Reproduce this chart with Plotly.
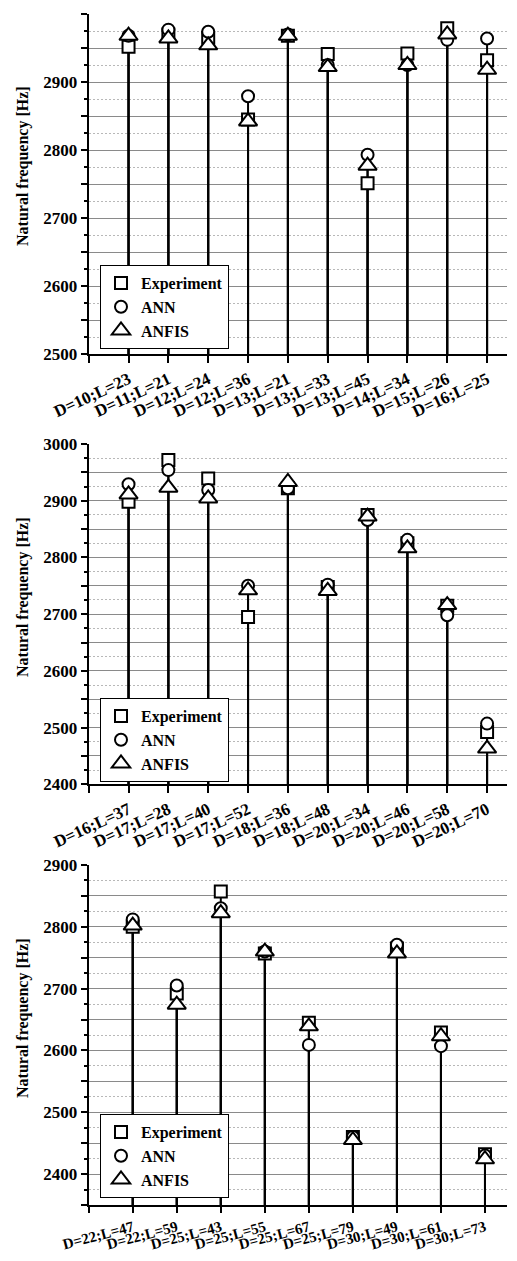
import plotly.graph_objects as go

# ---------------- data ----------------
labels1 = ["D=10;L=23", "D=11;L=21", "D=12;L=24", "D=12;L=36", "D=13;L=21",
           "D=13;L=33", "D=13;L=45", "D=14;L=34", "D=15;L=26", "D=16;L=25"]
exp1 = [2952, 2970, 2965, 2845, 2968, 2941, 2751, 2942, 2979, 2932]
ann1 = [2968, 2977, 2974, 2879, 2970, 2925, 2793, 2925, 2962, 2964]
anfis1 = [2968, 2964, 2954, 2842, 2968, 2922, 2777, 2925, 2970, 2918]

labels2 = ["D=16;L=37", "D=17;L=28", "D=17;L=40", "D=17;L=52", "D=18;L=36",
           "D=18;L=48", "D=20;L=34", "D=20;L=46", "D=20;L=58", "D=20;L=70"]
exp2 = [2898, 2972, 2939, 2695, 2922, 2748, 2875, 2825, 2715, 2492]
ann2 = [2929, 2954, 2919, 2750, 2922, 2752, 2866, 2831, 2698, 2507]
anfis2 = [2911, 2923, 2904, 2742, 2933, 2741, 2872, 2816, 2716, 2463]

labels3 = ["D=22;L=47", "D=22;L=59", "D=25;L=43", "D=25;L=55", "D=25;L=67",
           "D=25;L=79", "D=30;L=49", "D=30;L=61", "D=30;L=73"]
exp3 = [2800, 2692, 2857, 2757, 2645, 2460, 2765, 2629, 2432]
ann3 = [2812, 2705, 2830, 2760, 2609, 2460, 2771, 2607, 2430]
anfis3 = [2802, 2674, 2822, 2760, 2639, 2455, 2757, 2623, 2424]

yranges = [(2500, 3000), (2400, 3000), (2350, 2900)]
series_names = ["Experiment", "ANN", "ANFIS"]
y_title = "Natural frequency [Hz]"

# ---------------- geometry (page px, body margin 8) ----------------
W, H = 501, 1245
OFF = 8
px_left, px_right = 88.7 - OFF, 507 - OFF
panels_px = [(14 - OFF, 354 - OFF), (444 - OFF, 784.3 - OFF), (865 - OFF, 1205 - OFF)]
legend_px = [(100 - OFF, 265 - OFF), (100 - OFF, 698 - OFF), (100 - OFF, 1114 - OFF)]
title_center_px = [166 - OFF, 597 - OFF, 1018 - OFF]
tick_angles = [-25, -25, -15]
tick_sizes = [17, 17, 15]
xtick_lens = [7, 7, 6]

FONT = "Liberation Serif, Times New Roman, serif"
BLACK = "#000000"

fig = go.Figure()

panels = [
    (labels1, [exp1, ann1, anfis1]),
    (labels2, [exp2, ann2, anfis2]),
    (labels3, [exp3, ann3, anfis3]),
]
symbols = ["square", "circle", "triangle-up"]
sizes = [12, 12, 16]

for p, (labels, series) in enumerate(panels):
    xa = "x" if p == 0 else f"x{p+1}"
    ya = "y" if p == 0 else f"y{p+1}"
    leg = "legend" if p == 0 else f"legend{p+1}"
    ymin = yranges[p][0]
    cats = list(range(1, len(labels) + 1))
    # stems
    for vals in series:
        sx, sy = [], []
        for c, v in zip(cats, vals):
            sx += [c, c, None]
            sy += [ymin, v, None]
        fig.add_trace(go.Scatter(x=sx, y=sy, mode="lines",
                                 line=dict(color=BLACK, width=2),
                                 xaxis=xa, yaxis=ya, showlegend=False,
                                 hoverinfo="skip"))
    # markers
    for name, vals, sym, sz in zip(series_names, series, symbols, sizes):
        fig.add_trace(go.Scatter(x=cats, y=vals, mode="markers", name=name,
                                 marker=dict(symbol=sym, size=sz, color="white",
                                             line=dict(color=BLACK, width=2)),
                                 xaxis=xa, yaxis=ya, legend=leg,
                                 showlegend=True, cliponaxis=False))

layout = dict(
    template="none",
    width=W, height=H, margin=dict(l=0, r=0, t=0, b=0, autoexpand=False),
    paper_bgcolor="white", plot_bgcolor="white",
    font=dict(family=FONT, size=17, color=BLACK, weight="bold"),
)

annotations = []
for p, (labels, series) in enumerate(panels):
    top, bot = panels_px[p]
    ydom = [1 - bot / H, 1 - top / H]
    xdom = [px_left / W, px_right / W]
    sfx = "" if p == 0 else str(p + 1)
    n = len(labels)
    ymin, ymax = yranges[p]
    layout[f"xaxis{sfx}"] = dict(
        domain=xdom, anchor=f"y{sfx}", range=[0, n + 0.5], automargin=False,
        tickmode="array", tickvals=list(range(0, n + 1)),
        ticktext=[""] + labels, tickangle=tick_angles[p],
        showline=True, linecolor=BLACK, linewidth=2,
        ticks="outside", ticklen=xtick_lens[p], tickwidth=2, tickcolor=BLACK,
        showgrid=False, zeroline=False,
        tickfont=dict(family=FONT, size=tick_sizes[p], color=BLACK, weight="bold"),
    )
    layout[f"yaxis{sfx}"] = dict(
        domain=ydom, anchor=f"x{sfx}", range=[ymin, ymax], automargin=False,
        tickmode="linear", tick0=0, dtick=50, ticklabelstep=2,
        showgrid=True, gridcolor="#8a8a8a", gridwidth=1,
        zeroline=False, showline=True, linecolor=BLACK, linewidth=2,
        ticks="outside", ticklen=6, tickwidth=2, tickcolor=BLACK,
        tickfont=dict(family=FONT, size=17, color=BLACK, weight="bold"),
        minor=dict(dtick=25, tick0=0, showgrid=True, gridcolor="#b8b8b8",
                   griddash="2px,2px", gridwidth=1,
                   ticks="outside", ticklen=3, tickwidth=1.5, tickcolor=BLACK),
    )
    lx, ly = legend_px[p]
    leg = "legend" if p == 0 else f"legend{p+1}"
    layout[leg] = dict(
        x=lx / W, y=1 - ly / H, xanchor="left", yanchor="top",
        bgcolor="white", bordercolor=BLACK, borderwidth=1,
        font=dict(family=FONT, size=16, color=BLACK, weight="bold"),
        tracegroupgap=0, itemsizing="trace",
    )
    annotations.append(dict(
        text=y_title, textangle=-90, xref="paper", yref="paper",
        x=15 / W, y=1 - title_center_px[p] / H, xanchor="center", yanchor="middle",
        showarrow=False, font=dict(family=FONT, size=16, color=BLACK, weight="bold"),
    ))

layout["annotations"] = annotations
fig.update_layout(**layout)

fig.write_html("out.html")
